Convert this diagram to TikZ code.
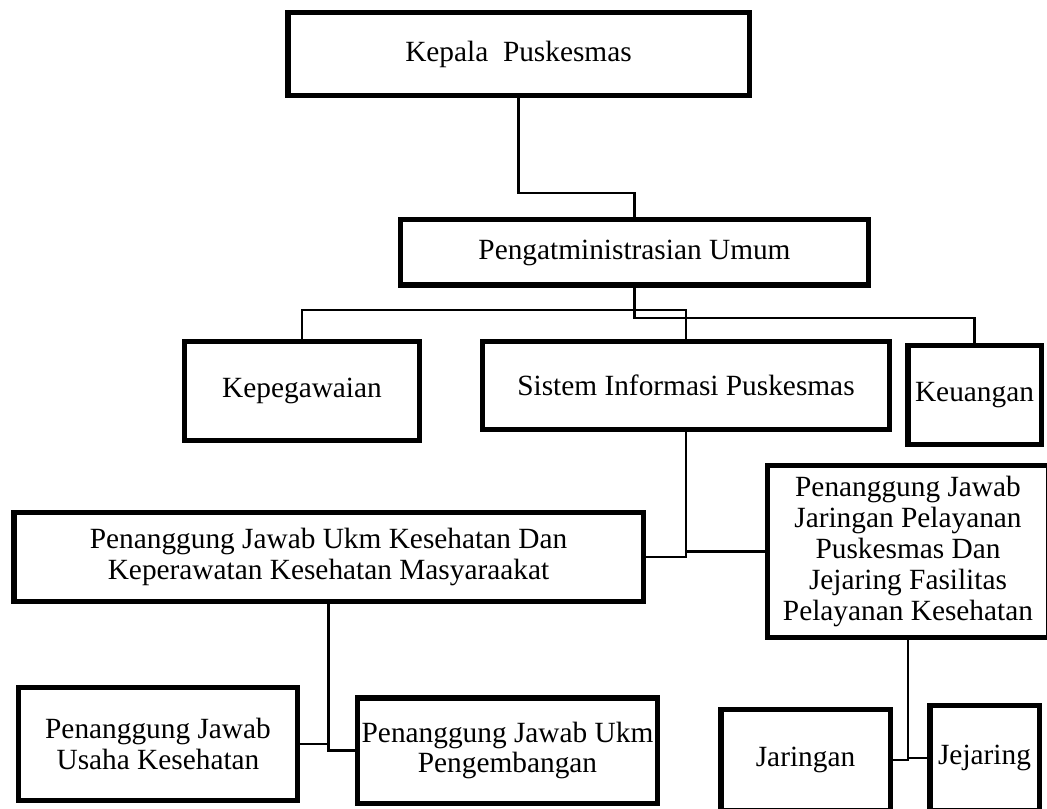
\documentclass[tikz,border=0pt]{standalone}
\usepackage{fontspec}
\setmainfont{Liberation Serif}
\begin{document}
\begin{tikzpicture}[x=0.75pt,y=-0.75pt,
    unit/.style={draw, line width=4pt, align=center, inner sep=0pt,
      font=\fontsize{22}{23.2}\selectfont},
    link/.style={line width=1.6pt}]
    \useasboundingbox (0,0) rectangle (1047,809);
    \clip (0,0) rectangle (1047,809);

    % Draw the head and the general administration
    \node[unit, minimum width=346pt, minimum height=62pt] (kepala) at (518.5,54) {Kepala\ \ Puskesmas};
    \node[unit, minimum width=351pt, minimum height=49pt] (pengat) at (634.5,252.5) {Pengatministrasian Umum};

    % Draw the units under the administration
    \node[unit, minimum width=176pt, minimum height=74pt] (kepeg) at (302,391) {Kepegawaian};
    \node[unit, minimum width=305pt, minimum height=66pt] (sistem) at (686,385.5) {Sistem Informasi Puskesmas};
    \node[unit, minimum width=100pt, minimum height=74pt] (keuangan) at (974.5,395) {Keuangan};

    % Draw the two responsible units
    \node[unit, minimum width=472pt, minimum height=66.5pt] (pjkes) at (328.5,557) {Penanggung Jawab Ukm Kesehatan Dan\\Keperawatan Kesehatan Masyaraakat};
    \node[unit, minimum width=210.5pt, minimum height=129pt] (pjjar) at (908,551.5) {Penanggung Jawab\\Jaringan Pelayanan\\Puskesmas Dan\\Jejaring Fasilitas\\Pelayanan Kesehatan};

    % Draw the bottom row
    \node[unit, minimum width=209pt, minimum height=84.5pt] (usaha) at (158,744) {Penanggung Jawab\\Usaha Kesehatan};
    \node[unit, minimum width=225pt, minimum height=79pt] (pengem) at (507.5,750.5) {Penanggung Jawab Ukm\\Pengembangan};
    \node[unit, minimum width=127pt, minimum height=75.5pt] (jaringan) at (805.5,760) {Jaringan};
    \node[unit, minimum width=82pt, minimum height=78.5pt] (jejaring) at (984.5,758) {Jejaring};

    % Draw the connectors
    \draw[link] (kepala.south) -- ++(0,95) -| (pengat.north);
    \draw[link] (pengat.south) -- ++(0,30) -| (keuangan.north);
    \draw[link] (kepeg.north) -- ++(0,-29) -| (sistem.north);
    \draw[link] (sistem.south) |- (pjkes.east);
    \draw[link] (sistem.south) |- (pjjar.west);
    \draw[link] (pjkes.south) |- (usaha.east);
    \draw[link] (pjkes.south) |- (pengem.west);
    \draw[link] (pjjar.south) |- (jaringan.east);
    \draw[link] (pjjar.south) |- (jejaring.west);
\end{tikzpicture}
\end{document}
